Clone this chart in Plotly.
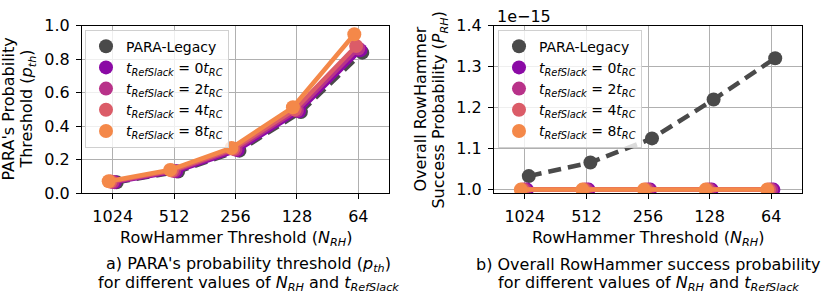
import plotly.graph_objects as go

categories = ["1024", "512", "256", "128", "64"]
series_names = [
    "PARA-Legacy",
    "<i>t</i><sub><i>RefSlack</i></sub> = 0<i>t</i><sub><i>RC</i></sub>",
    "<i>t</i><sub><i>RefSlack</i></sub> = 2<i>t</i><sub><i>RC</i></sub>",
    "<i>t</i><sub><i>RefSlack</i></sub> = 4<i>t</i><sub><i>RC</i></sub>",
    "<i>t</i><sub><i>RefSlack</i></sub> = 8<i>t</i><sub><i>RC</i></sub>",
]
colors = ["#4a4a4a", "#8b0aa5", "#b83289", "#db5c68", "#f48849"]
x_offsets = [0.065, 0.035, 0.0, -0.035, -0.065]

pth_legacy = [0.066, 0.130, 0.255, 0.485, 0.840]
pth_slack0 = [0.067, 0.132, 0.258, 0.490, 0.855]
pth_slack2 = [0.068, 0.134, 0.262, 0.495, 0.865]
pth_slack4 = [0.070, 0.136, 0.266, 0.500, 0.880]
pth_slack8 = [0.072, 0.140, 0.271, 0.514, 0.950]

# overall RowHammer success probability, in units of 1e-15
prh_legacy = [1.033, 1.066, 1.125, 1.220, 1.321]
prh_slack0 = [1.0, 1.0, 1.0, 1.0, 1.0]
prh_slack2 = [1.0, 1.0, 1.0, 1.0, 1.0]
prh_slack4 = [1.0, 1.0, 1.0, 1.0, 1.0]
prh_slack8 = [1.0, 1.0, 1.0, 1.0, 1.0]

left_data = [pth_legacy, pth_slack0, pth_slack2, pth_slack4, pth_slack8]
right_data = [prh_legacy, prh_slack0, prh_slack2, prh_slack4, prh_slack8]

W, H = 830, 296
FONT = "DejaVu Sans"

def px(x):
    return x / W

def py(y):
    return 1 - y / H

fig = go.Figure()

for panel, data, xa, ya, leg in [
    (0, left_data, "x", "y", "legend"),
    (1, right_data, "x2", "y2", "legend2"),
]:
    for i, (name, vals) in enumerate(zip(series_names, data)):
        xs = [k + x_offsets[i] for k in range(len(categories))]
        fig.add_trace(go.Scatter(
            x=xs, y=vals, xaxis=xa, yaxis=ya,
            mode="lines+markers",
            line=dict(color=colors[i], width=4.5, dash="13px,7px" if i == 0 else "solid"),
            marker=dict(color=colors[i], size=14),
            showlegend=False, hoverinfo="skip",
        ))
    for i, name in enumerate(series_names):
        fig.add_trace(go.Scatter(
            x=[None], y=[None], xaxis=xa, yaxis=ya, mode="markers",
            marker=dict(color=colors[i], size=14),
            name=name, legend=leg, showlegend=True,
        ))

axis_common = dict(
    showgrid=True, gridcolor="#b0b0b0", gridwidth=1.2,
    showline=True, linecolor="black", linewidth=1, mirror=True,
    ticks="outside", ticklen=5, tickcolor="black", ticklabelstandoff=3,
    tickfont=dict(family=FONT, size=16, color="black"),
    zeroline=False,
)

ydom = [py(197), py(18)]
legend_common = dict(
    xanchor="left", yanchor="top", itemwidth=30,
    bgcolor="rgba(255,255,255,0.8)", bordercolor="#d0d0d0", borderwidth=1,
    font=dict(family=FONT, size=14, color="black"),
)
fig.update_layout(
    width=W, height=H,
    margin=dict(l=0, r=0, t=0, b=0),
    paper_bgcolor="white", plot_bgcolor="white",
    font=dict(family=FONT, color="black"),
    xaxis=dict(domain=[px(82), px(389)], range=[-0.5, 4.5],
               tickvals=list(range(5)), ticktext=categories, **axis_common),
    yaxis=dict(domain=ydom, range=[0, 1.0], tickvals=[0, 0.2, 0.4, 0.6, 0.8, 1.0],
               tickformat=".1f", **axis_common),
    xaxis2=dict(domain=[px(494), px(802)], range=[-0.5, 4.5], anchor="y2",
                tickvals=list(range(5)), ticktext=categories, **axis_common),
    yaxis2=dict(domain=ydom, range=[0.9908, 1.4], anchor="x2",
                tickvals=[1.0, 1.1, 1.2, 1.3, 1.4], tickformat=".1f", **axis_common),
    legend=dict(x=px(85), y=py(22), **legend_common),
    legend2=dict(x=px(498), y=py(22), **legend_common),
)

ann = []
def text(x, y, s, angle=0, size=16, xanchor="center"):
    ann.append(dict(x=px(x), y=py(y), xref="paper", yref="paper", text=s,
                    showarrow=False, textangle=angle, xanchor=xanchor, yanchor="middle",
                    font=dict(family=FONT, size=size, color="black")))

text(235.5, 245, "RowHammer Threshold (<i>N</i><sub><i>RH</i></sub>)")
text(648, 245, "RowHammer Threshold (<i>N</i><sub><i>RH</i></sub>)")
text(9, 107.5, "PARA's Probability", angle=-90)
text(28, 107.5, "Threshold (<i>p</i><sub><i>th</i></sub>)", angle=-90)
text(421, 107.5, "Overall RowHammer", angle=-90)
text(440, 107.5, "Success Probability (<i>P</i><sub><i>RH</i></sub>)", angle=-90)
text(495, 8, "1e\u221215", xanchor="left")
text(248, 273, "a) PARA's probability threshold (<i>p</i><sub><i>th</i></sub>)")
text(248, 293, "for different values of <i>N</i><sub><i>RH</i></sub> and <i>t</i><sub><i>RefSlack</i></sub>")
text(648, 273, "b) Overall RowHammer success probability")
text(648, 293, "for different values of <i>N</i><sub><i>RH</i></sub> and <i>t</i><sub><i>RefSlack</i></sub>")
fig.update_layout(annotations=ann)

fig.write_html("out.html", config={"displayModeBar": False},
               post_script="document.body.style.margin='0';document.body.style.overflow='hidden';")
